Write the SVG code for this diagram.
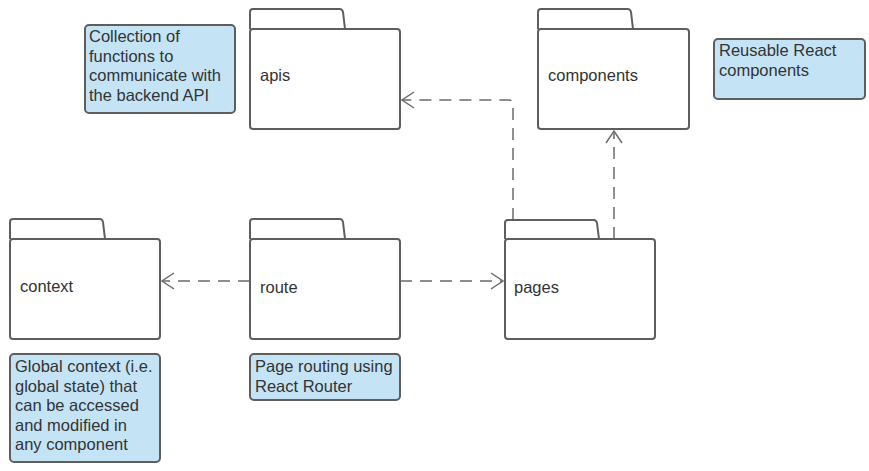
<svg xmlns="http://www.w3.org/2000/svg" width="869" height="471" viewBox="0 0 869 471">
<defs>
<style>
.folder path, .folder rect { fill: #ffffff; stroke: #5e5e5e; stroke-width: 2; stroke-linejoin: round; }
.note rect { fill: #c4e4f6; stroke: #5e5e5e; stroke-width: 2; }
text { font-family: "Liberation Sans", Arial, sans-serif; font-size: 16.5px; fill: #333333; }
.conn path { fill: none; stroke: #6b6b6b; stroke-width: 1.5; }
.conn .dash { stroke-dasharray: 12 8; }
</style>
</defs>
<rect width="869" height="471" fill="#ffffff"/>

<g id="connectors" class="conn">
  <path class="dash" d="M250,281 H163"/>
  <path d="M174,273 L162,281 L174,289"/>
  <path class="dash" d="M400,281 H503"/>
  <path d="M491,273 L503,281 L491,289"/>
  <path class="dash" d="M513,220 V104 Q513,100 509,100 H402"/>
  <path d="M414,92 L402,100 L414,108"/>
  <path class="dash" d="M614,239 V131"/>
  <path d="M606,143 L614,131 L622,143"/>
</g>

<g id="apis" class="folder">
  <path d="M250,29 V12 Q250,9 253,9 H340 Q342,9 343,12 L345,29"/>
  <rect x="250" y="29" width="150" height="100" rx="3"/>
  <text x="260" y="81">apis</text>
</g>

<g id="components" class="folder">
  <path d="M538,29 V12 Q538,9 541,9 H628 Q630,9 631,12 L633,29"/>
  <rect x="538" y="29" width="151" height="100" rx="3"/>
  <text x="548" y="81">components</text>
</g>

<g id="context" class="folder">
  <path d="M10,239 V222 Q10,219 13,219 H100 Q102,219 103,222 L105,239"/>
  <rect x="10" y="239" width="150" height="100" rx="3"/>
  <text x="20" y="292">context</text>
</g>

<g id="route" class="folder">
  <path d="M250,239 V222 Q250,219 253,219 H340 Q342,219 343,222 L345,239"/>
  <rect x="250" y="239" width="150" height="100" rx="3"/>
  <text x="260" y="293">route</text>
</g>

<g id="pages" class="folder">
  <path d="M505,239 V223 Q505,220 508,220 H594 Q596,220 597,223 L599,239"/>
  <rect x="505" y="239" width="150" height="100" rx="3"/>
  <text x="514" y="293">pages</text>
</g>

<g id="note-apis" class="note">
  <rect x="85" y="25" width="150" height="88" rx="4"/>
  <text x="89" y="42">Collection of</text>
  <text x="89" y="61.5">functions to</text>
  <text x="89" y="81">communicate with</text>
  <text x="89" y="100.5">the backend API</text>
</g>

<g id="note-components" class="note">
  <rect x="714" y="39" width="151" height="60" rx="4"/>
  <text x="719" y="56">Reusable React</text>
  <text x="719" y="75.5">components</text>
</g>

<g id="note-context" class="note">
  <rect x="10" y="354" width="150" height="108" rx="4"/>
  <text x="15" y="372">Global context (i.e.</text>
  <text x="15" y="391.5">global state) that</text>
  <text x="15" y="411">can be accessed</text>
  <text x="15" y="430.5">and modified in</text>
  <text x="15" y="450">any component</text>
</g>

<g id="note-route" class="note">
  <rect x="250" y="354" width="150" height="46" rx="4"/>
  <text x="255" y="372">Page routing using</text>
  <text x="255" y="391.5">React Router</text>
</g>
</svg>
